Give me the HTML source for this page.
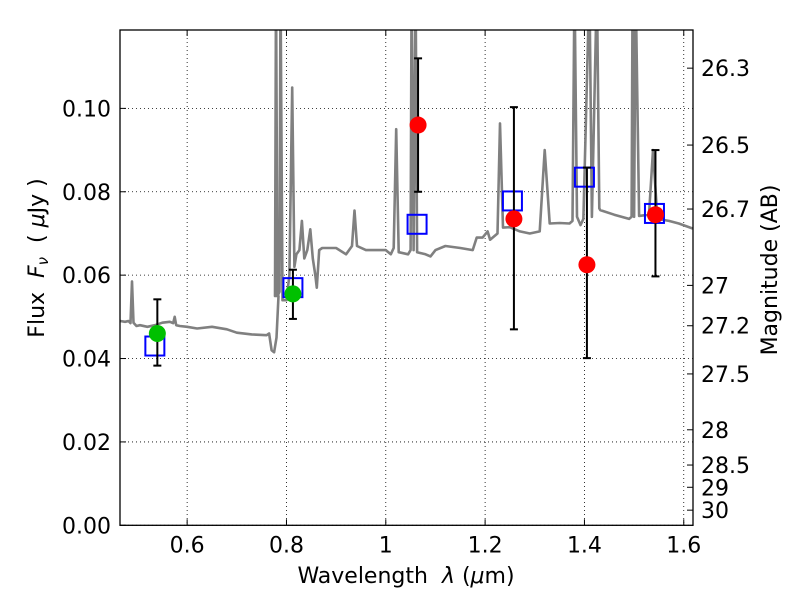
<!DOCTYPE html>
<html><head><meta charset="utf-8"><style>
body{margin:0;background:#fff;}
svg{display:block;font-family:"DejaVu Sans","Liberation Sans",sans-serif;}
.pre{white-space:pre;}
</style></head><body>
<svg id="chart" width="800" height="600" viewBox="0 0 800 600" xmlns="http://www.w3.org/2000/svg">
<defs><clipPath id="plotclip"><rect x="120" y="30" width="573" height="495.3"/></clipPath></defs>
<rect x="0" y="0" width="800" height="600" fill="#fff"/>
<g id="grid"></g>
<g id="spec" clip-path="url(#plotclip)"></g>
<g id="marks"></g>
<rect x="120" y="30" width="573" height="495.3" fill="none" stroke="#000" stroke-width="1.3"/>
<g id="axes"></g>
<text class="pre" x="406" y="583" font-size="22" text-anchor="middle">Wavelength  <tspan font-style="italic">λ</tspan> (<tspan font-style="italic">μ</tspan>m)</text>
<text class="pre" transform="translate(44,258) rotate(-90)" font-size="22" text-anchor="middle">Flux  <tspan font-style="italic">F</tspan><tspan font-style="italic" font-size="15" dy="4">ν</tspan><tspan dy="-4">  ( </tspan><tspan font-style="italic">μ</tspan>Jy )</text>
<text transform="translate(777,270) rotate(-90)" font-size="22" text-anchor="middle">Magnitude (AB)</text>
</svg>
<script>
const xTicks=[0.6,0.8,1.0,1.2,1.4,1.6];
const xTickLabels=["0.6","0.8","1","1.2","1.4","1.6"];
const yTicks=[0,0.02,0.04,0.06,0.08,0.10];
const yTickLabels=["0.00","0.02","0.04","0.06","0.08","0.10"];
const magTicks=[26.3,26.5,26.7,27,27.2,27.5,28,28.5,29,30];
const magTickLabels=["26.3","26.5","26.7","27","27.2","27.5","28","28.5","29","30"];
const specWave=[0.465,0.475,0.482,0.486,0.489,0.492,0.498,0.505,0.52,0.535,0.55,0.565,0.572,0.575,0.578,0.585,0.60,0.62,0.65,0.68,0.70,0.73,0.76,0.765,0.77,0.775,0.78,0.784,0.777,0.779,0.782,0.786,0.788,0.792,0.80,0.806,0.8115,0.816,0.82,0.826,0.831,0.836,0.842,0.848,0.853,0.858,0.861,0.866,0.872,0.9,0.92,0.932,0.937,0.942,0.96,1.0,1.01,1.016,1.021,1.026,1.045,1.05,1.052,1.056,1.06,1.063,1.08,1.09,1.10,1.12,1.15,1.175,1.183,1.195,1.205,1.21,1.225,1.23,1.236,1.25,1.27,1.29,1.31,1.32,1.33,1.35,1.37,1.376,1.38,1.385,1.392,1.398,1.41,1.415,1.425,1.43,1.432,1.46,1.49,1.495,1.497,1.50,1.503,1.51,1.53,1.538,1.547,1.57,1.59,1.618];
const specFlux=[0.0490,0.0488,0.0490,0.0485,0.0585,0.0486,0.0478,0.0480,0.0476,0.0480,0.0486,0.0488,0.0485,0.0500,0.0480,0.0478,0.0476,0.0472,0.0476,0.0470,0.0462,0.0458,0.0456,0.0460,0.0420,0.0415,0.0450,0.0550,0.0550,0.1300,0.0550,0.0560,0.1300,0.0540,0.0540,0.0600,0.1050,0.0620,0.0650,0.0660,0.0730,0.0640,0.0660,0.0710,0.0640,0.0600,0.0570,0.0660,0.0665,0.0665,0.0650,0.0670,0.0755,0.0670,0.0660,0.0660,0.0650,0.0665,0.0950,0.0655,0.0650,0.0660,0.1300,0.0660,0.1300,0.0655,0.0650,0.0645,0.0660,0.0670,0.0665,0.0660,0.0690,0.0690,0.0705,0.0685,0.0700,0.0964,0.0714,0.0715,0.0705,0.0700,0.0705,0.0900,0.0724,0.0725,0.0724,0.0730,0.1300,0.0740,0.0720,0.0735,0.1300,0.0740,0.1300,0.0760,0.0756,0.0745,0.0735,0.0740,0.1300,0.0740,0.1300,0.0742,0.0745,0.0900,0.0735,0.0730,0.0724,0.0712];
const greenWave=[0.540,0.813];
const greenFlux=[0.0460,0.0555];
const redWave=[1.065,1.258,1.405,1.543];
const redFlux=[0.0960,0.0735,0.0625,0.0745];
const errWave=[0.540,0.813,1.065,1.258,1.405,1.543];
const errLow=[0.0383,0.0495,0.0800,0.0470,0.0401,0.0597];
const errHigh=[0.0542,0.0613,0.1120,0.1003,0.0858,0.0900];
const boxWave=[0.535,0.813,1.063,1.255,1.400,1.541];
const boxFlux=[0.0430,0.0570,0.0722,0.0778,0.0835,0.0748];

const NS="http://www.w3.org/2000/svg";
const X0=120,X1=693,Y0=525.3,Y1=30,xmin=0.4648,xmax=1.6186,ymax=0.1188;
const sx=v=>X0+(v-xmin)/(xmax-xmin)*(X1-X0);
const sy=v=>Y0-v/ymax*(Y0-Y1);
const magY=m=>sy(Math.pow(10,(23.9-m)/2.5));
function mk(tag,attrs,parent){const e=document.createElementNS(NS,tag);for(const k in attrs)e.setAttribute(k,attrs[k]);parent.appendChild(e);return e;}
const grid=document.getElementById('grid'),axes=document.getElementById('axes'),spec=document.getElementById('spec'),marks=document.getElementById('marks');
xTicks.forEach((t,i)=>{const x=sx(t);
 const g=mk('line',{x1:x,x2:x,y1:Y1,y2:Y0,stroke:'#000','stroke-width':0.8,'stroke-dasharray':'1,3'},grid);
 
 
 mk('line',{x1:x,x2:x,y1:Y0,y2:Y0-6,stroke:'#000'},axes);
 mk('line',{x1:x,x2:x,y1:Y1,y2:Y1+6,stroke:'#000'},axes);
 const tx=mk('text',{x:x,y:Y0+27,'font-size':22,'text-anchor':'middle'},axes);tx.textContent=xTickLabels[i];
 
 
});
yTicks.forEach((t,i)=>{const y=sy(t);
 const g=mk('line',{x1:X0,x2:X1,y1:y,y2:y,stroke:'#000','stroke-width':0.8,'stroke-dasharray':'1,3'},grid);
 
 
 mk('line',{x1:X0,x2:X0+6,y1:y,y2:y,stroke:'#000'},axes);
 const tx=mk('text',{x:X0-9,y:y+8,'font-size':22,'text-anchor':'end'},axes);tx.textContent=yTickLabels[i];
 
 
});
magTicks.forEach((m,i)=>{const y=magY(m);
 mk('line',{x1:X1,x2:X1-6,y1:y,y2:y,stroke:'#000'},axes);
 const tx=mk('text',{x:X1+8,y:y+8,'font-size':22},axes);tx.textContent=magTickLabels[i];
 
 
});
const pts=specWave.map((w,i)=>sx(w).toFixed(1)+','+sy(specFlux[i]).toFixed(1)).join(' ');
const pl=mk('polyline',{points:pts,fill:'none',stroke:'#808080','stroke-width':2.6,'stroke-linejoin':'round'},spec);


boxWave.forEach((w,i)=>{
 const r=mk('rect',{x:sx(w)-9.5,y:sy(boxFlux[i])-9.5,width:19,height:19,fill:'none',stroke:'#0000ff','stroke-width':2},marks);
 
 
});
errWave.forEach((w,i)=>{const x=sx(w),a=sy(errLow[i]),b=sy(errHigh[i]);
 const g=mk('g',{},marks);
 
 
 mk('line',{x1:x,x2:x,y1:a,y2:b,stroke:'#000','stroke-width':2},g);
 mk('line',{x1:x-4,x2:x+4,y1:a,y2:a,stroke:'#000','stroke-width':2},g);
 mk('line',{x1:x-4,x2:x+4,y1:b,y2:b,stroke:'#000','stroke-width':2},g);
});
greenWave.forEach((w,i)=>{
 const c=mk('circle',{cx:sx(w),cy:sy(greenFlux[i]),r:8.5,fill:'#00c000'},marks);
 
 
});
redWave.forEach((w,i)=>{
 const c=mk('circle',{cx:sx(w),cy:sy(redFlux[i]),r:8.5,fill:'#ff0000'},marks);
 
 
});
</script>
</body></html>
